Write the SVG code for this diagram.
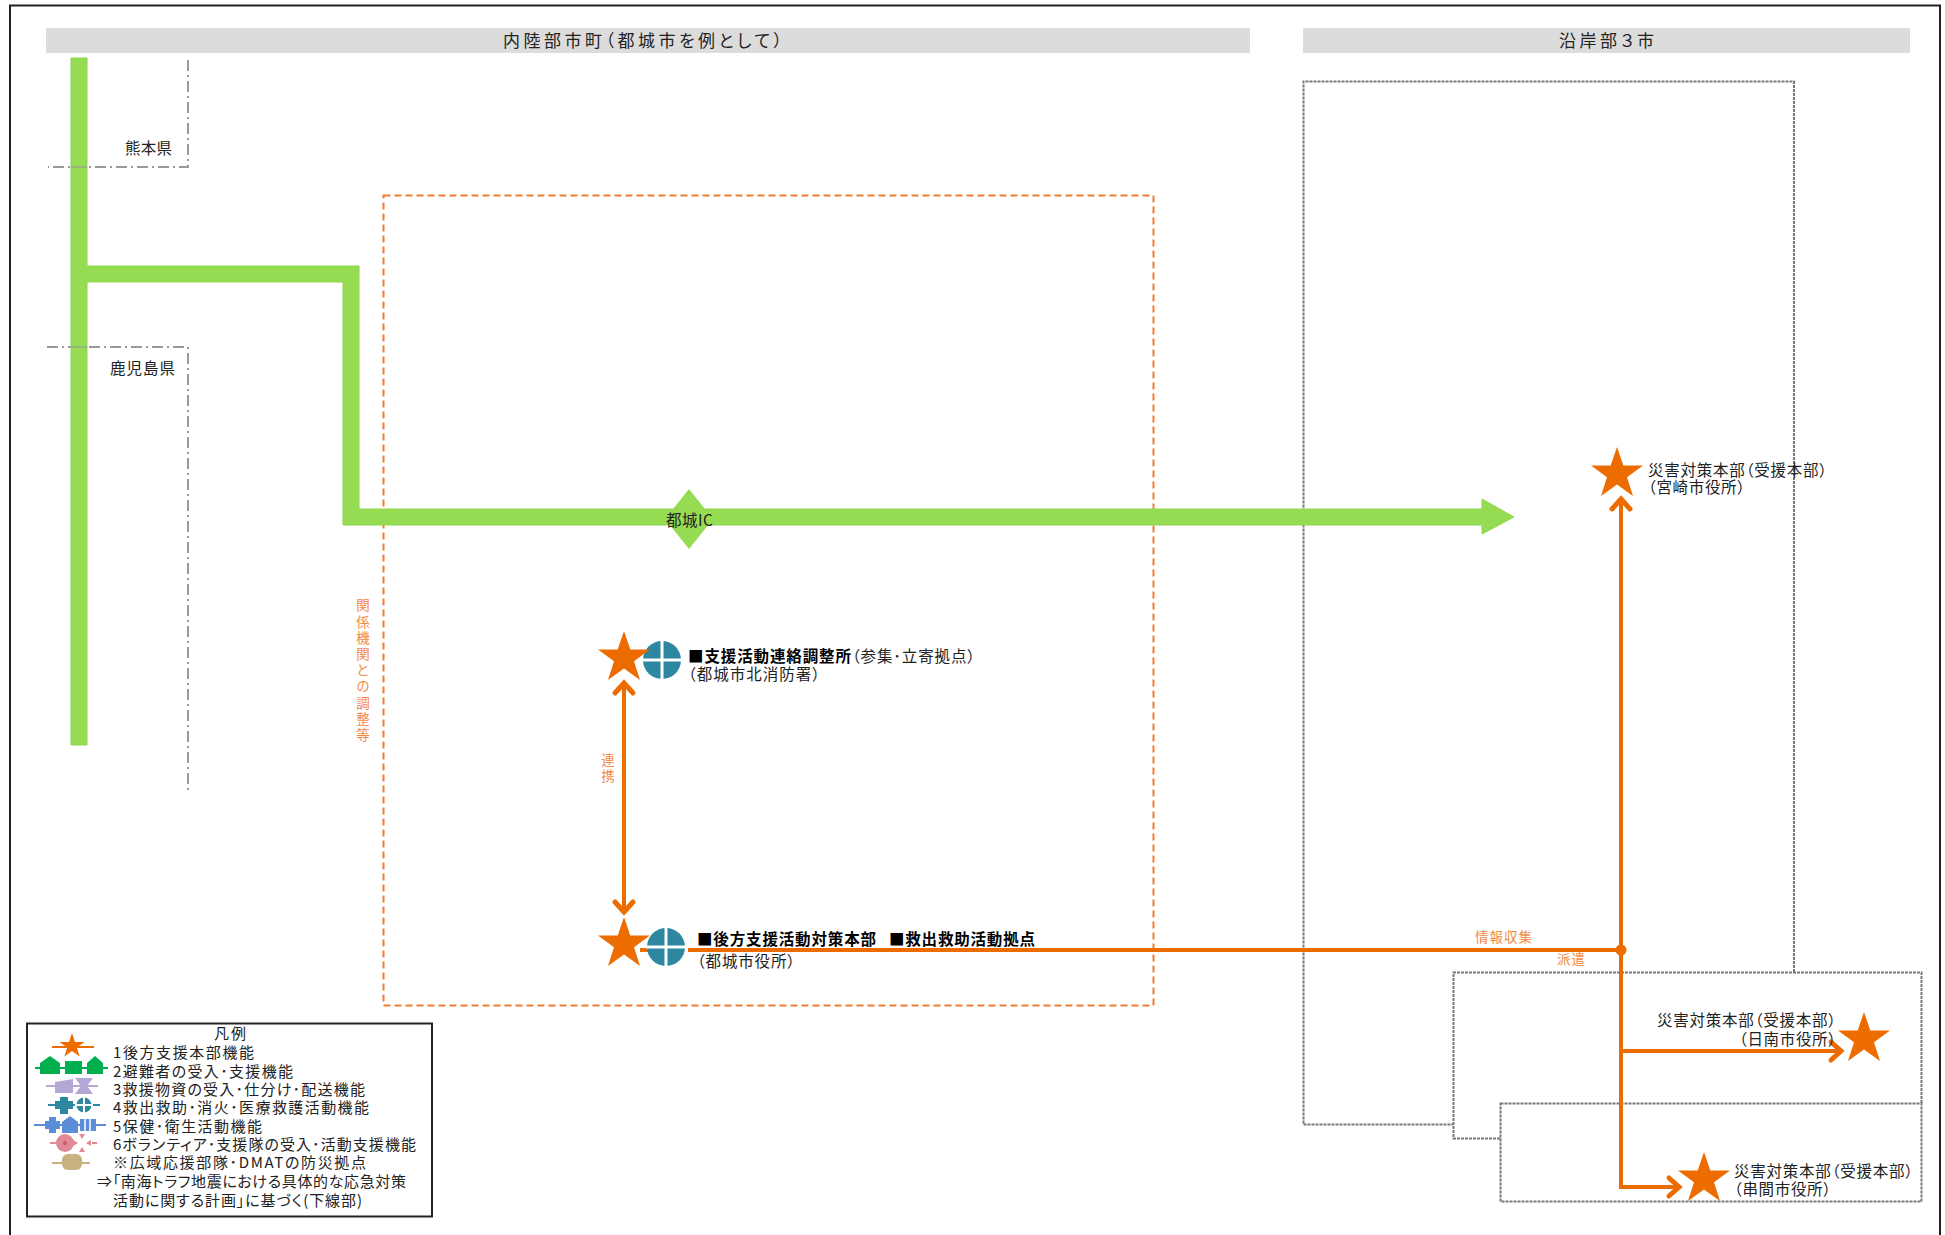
<svg xmlns="http://www.w3.org/2000/svg" width="1945" height="1235" viewBox="0 0 1945 1235">
<style>
text{font-family:"Noto Sans CJK JP","Noto Sans CJK SC",sans-serif;dominant-baseline:central;font-feature-settings:"palt";transform:translateY(-1.5px)}
.t{font-size:15.5px;fill:#222}
.b{font-size:15.5px;fill:#000;font-weight:700}
.o{font-size:13.5px;fill:#f28a44}
.v{writing-mode:vertical-rl;text-orientation:upright;font-feature-settings:normal}
.h{font-size:17px;fill:#222}
.l{font-size:15px;fill:#222}
.star{fill:#ed6c00}
.road{fill:#95dc52;stroke:#8ed64d;stroke-width:1}
.bar{fill:#dcdcdc}
.pref{fill:none;stroke:#999;stroke-width:2;stroke-dasharray:11 4 2 4}
.dot{fill:none;stroke:#777;stroke-width:2;stroke-dasharray:3 1}
.con{fill:none;stroke:#ed6c00;stroke-width:4}
.arr{marker-end:url(#ah)}
.teal{fill:#2e87a0}
.wh{stroke:#fff;stroke-width:3;fill:none}
</style>
<defs>
<marker id="ah" markerUnits="userSpaceOnUse" markerWidth="28" markerHeight="28" refX="24" refY="14" orient="auto-start-reverse" viewBox="0 0 28 28">
<path d="M14 5L24 14L14 23" fill="none" stroke="#ed6c00" stroke-width="5" stroke-linecap="round"/>
</marker>
<polygon id="st" points="0,-27 6.300,-8.500 26,-8.500 10,3.200 16,22 0,10.500 -16,22 -10,3.200 -26,-8.500 -6.300,-8.500"/>
<g id="cc"><circle r="19" class="teal"/><path d="M0-20V20M-20 0H20" class="wh"/></g>
</defs>
<rect x="10" y="5.500" width="1930" height="1240" fill="#fff" stroke="#222" stroke-width="2"/>
<g id="headers">
<g id="header-inland"><rect class="bar" x="46" y="28" width="1204" height="25"/><text class="h" x="503" y="41" textLength="279">内陸部市町（都城市を例として）</text></g>
<g id="header-coast"><rect class="bar" x="1303" y="28" width="607" height="25"/><text class="h" x="1559" y="41" textLength="95">沿岸部３市</text></g>
</g>
<g id="areas">
<path class="pref" d="M188 60V167H48"/>
<path class="pref" d="M47 347H188V790"/>
<rect x="383.500" y="195.500" width="770" height="810" fill="none" stroke="#ed7d31" stroke-width="2" stroke-dasharray="7 4"/>
<path class="dot" d="M1794 972V81.500H1303.500V1124.500H1453"/>
<path class="dot" d="M1500 1138.500H1453.500V972.500H1921.500V1103"/>
<rect class="dot" x="1500.500" y="1103.500" width="421" height="98"/>
</g>
<g id="road">
<path class="road" d="M71 58H87V266H359V509H1482V499L1514 517L1482 534V525H343V282H87V745H71Z"/>
</g>
<path class="pref" d="M71 167H87M71 347H87" style="stroke-dasharray:none;opacity:.6"/>
<g id="ic"><polygon points="689,489 713,519 689,549 665,519" fill="#95dc52"/><text x="666" y="520" class="t" textLength="47">都城IC</text></g>
<g id="pref-labels">
<text class="t" x="125" y="148" textLength="47">熊本県</text>
<text class="t" x="110" y="368" textLength="65">鹿児島県</text>
</g>
<g id="connectors">
<path class="con arr" style="marker-start:url(#ah)" d="M624 683V912"/>
<path class="con" d="M640 950H648M688 950H1621"/>
<path class="con arr" d="M1621 950V499"/>
<path class="con" d="M1621 950V1187"/>
<path class="con arr" d="M1621 1051H1841"/>
<path class="con arr" d="M1619 1187H1679"/>
<circle cx="1621" cy="950" r="5.500" fill="#ed6c00"/>
<text class="o" x="1475" y="937" textLength="57">情報収集</text>
<text class="o" x="1557" y="959" textLength="28">派遣</text>
<text class="o v" x="608" y="755" style="letter-spacing:2px">連携</text>
<text class="o v" x="363" y="600" style="letter-spacing:2.700px">関係機関との調整等</text>
</g>
<g id="node-renraku">
<use href="#cc" x="662" y="660"/><use href="#st" x="624" y="658" class="star"/>
<text class="b" x="688" y="656" textLength="163">■支援活動連絡調整所</text>
<text class="t" x="852" y="656" textLength="123">（参集･立寄拠点）</text>
<text class="t" x="688" y="674" textLength="132">（都城市北消防署）</text>
</g>
<g id="node-honbu">
<use href="#cc" x="666" y="947"/><use href="#st" x="624" y="944" class="star"/>
<text class="b" x="697" y="939" textLength="179">■後方支援活動対策本部</text>
<text class="b" x="889" y="939" textLength="146">■救出救助活動拠点</text>
<text class="t" x="697" y="961" textLength="98">（都城市役所）</text>
</g>
<g id="node-miyazaki">
<use href="#st" x="1617" y="474" class="star"/>
<text class="t" x="1648" y="470" textLength="179">災害対策本部（受援本部）</text>
<text class="t" x="1648" y="487" textLength="97">（宮崎市役所）</text>
</g>
<g id="node-nichinan">
<use href="#st" x="1864" y="1039" class="star"/>
<text class="t" x="1657" y="1020" textLength="179">災害対策本部（受援本部）</text>
<text class="t" x="1739" y="1039" textLength="97">（日南市役所）</text>
</g>
<g id="node-kushima">
<use href="#st" x="1704" y="1179" class="star"/>
<text class="t" x="1734" y="1171" textLength="179">災害対策本部（受援本部）</text>
<text class="t" x="1734" y="1189" textLength="97">（串間市役所）</text>
</g>
<g id="legend">
<rect x="27" y="1023.500" width="405" height="193" fill="#fff" stroke="#222" stroke-width="2"/>
<text class="l" x="214" y="1034" textLength="32">凡例</text>
<text class="l" x="113" y="1053" textLength="141">1後方支援本部機能</text>
<text class="l" x="113" y="1072" textLength="180">2避難者の受入･支援機能</text>
<text class="l" x="113" y="1090" textLength="252">3救援物資の受入･仕分け･配送機能</text>
<text class="l" x="113" y="1108" textLength="256">4救出救助･消火･医療救護活動機能</text>
<text class="l" x="113" y="1127" textLength="149">5保健･衛生活動機能</text>
<text class="l" x="113" y="1145" textLength="303">6ボランティア･支援隊の受入･活動支援機能</text>
<text class="l" x="113" y="1163" textLength="253">※広域応援部隊･DMATの防災拠点</text>
<text class="l" x="97" y="1182" textLength="309">⇒「南海トラフ地震における具体的な応急対策</text>
<text class="l" x="113" y="1201" textLength="249">活動に関する計画」に基づく(下線部)</text>
<g id="lg1"><path d="M52 1047H94" stroke="#ed6c00" stroke-width="2"/><use href="#st" transform="translate(72 1046) scale(.48)" class="star"/></g>
<g id="lg2" fill="#00b050"><path d="M35 1068H108" stroke="#00b050" stroke-width="2"/><polygon points="50,1056 60,1063 60,1074 40,1074 40,1063"/><rect x="65" y="1061" width="17" height="13"/><polygon points="95,1056 103,1063 103,1074 87,1074 87,1063"/></g>
<g id="lg3" fill="#b4a7d6"><path d="M46 1086H98" stroke="#b4a7d6" stroke-width="2"/><polygon points="55,1082 73,1079 73,1093 55,1093"/><polygon points="75,1078 93,1078 87,1086 93,1094 75,1094 81,1086"/></g>
<g id="lg4" fill="#2e87a0"><path d="M48 1105H100" stroke="#2e87a0" stroke-width="2"/><path d="M60 1097H68V1101H73V1109H68V1114H60V1109H55V1101H60Z"/><circle cx="84" cy="1105" r="7.500"/><path d="M84 1096V1114M75 1105H93" stroke="#fff" stroke-width="2"/></g>
<g id="lg5" fill="#5b8dd9"><path d="M34 1125H106" stroke="#5b8dd9" stroke-width="2"/><path d="M49 1117H56V1121H60V1129H56V1133H49V1129H45V1121H49Z"/><polygon points="70,1116 78,1122 78,1133 62,1133 62,1122"/><rect x="80" y="1119" width="16" height="12"/><path d="M85 1118V1132M90 1118V1132" stroke="#fff" stroke-width="1.500"/></g>
<g id="lg6" fill="#e08a96"><path d="M50 1143H60M92 1143H97" stroke="#e08a96" stroke-width="2"/><circle cx="65" cy="1143" r="9"/><circle cx="65" cy="1143" r="2" fill="#c85a70"/><polygon points="82,1139 79,1134 85,1134"/><polygon points="82,1147 79,1152 85,1152"/><polygon points="78,1143 73,1140 73,1146"/><polygon points="86,1143 91,1140 91,1146"/></g>
<g id="lg7"><path d="M52 1163H90" stroke="#c8b280" stroke-width="2"/><rect x="62" y="1154" width="20" height="16" rx="6" fill="#c8b280"/></g>
</g>
</svg>
